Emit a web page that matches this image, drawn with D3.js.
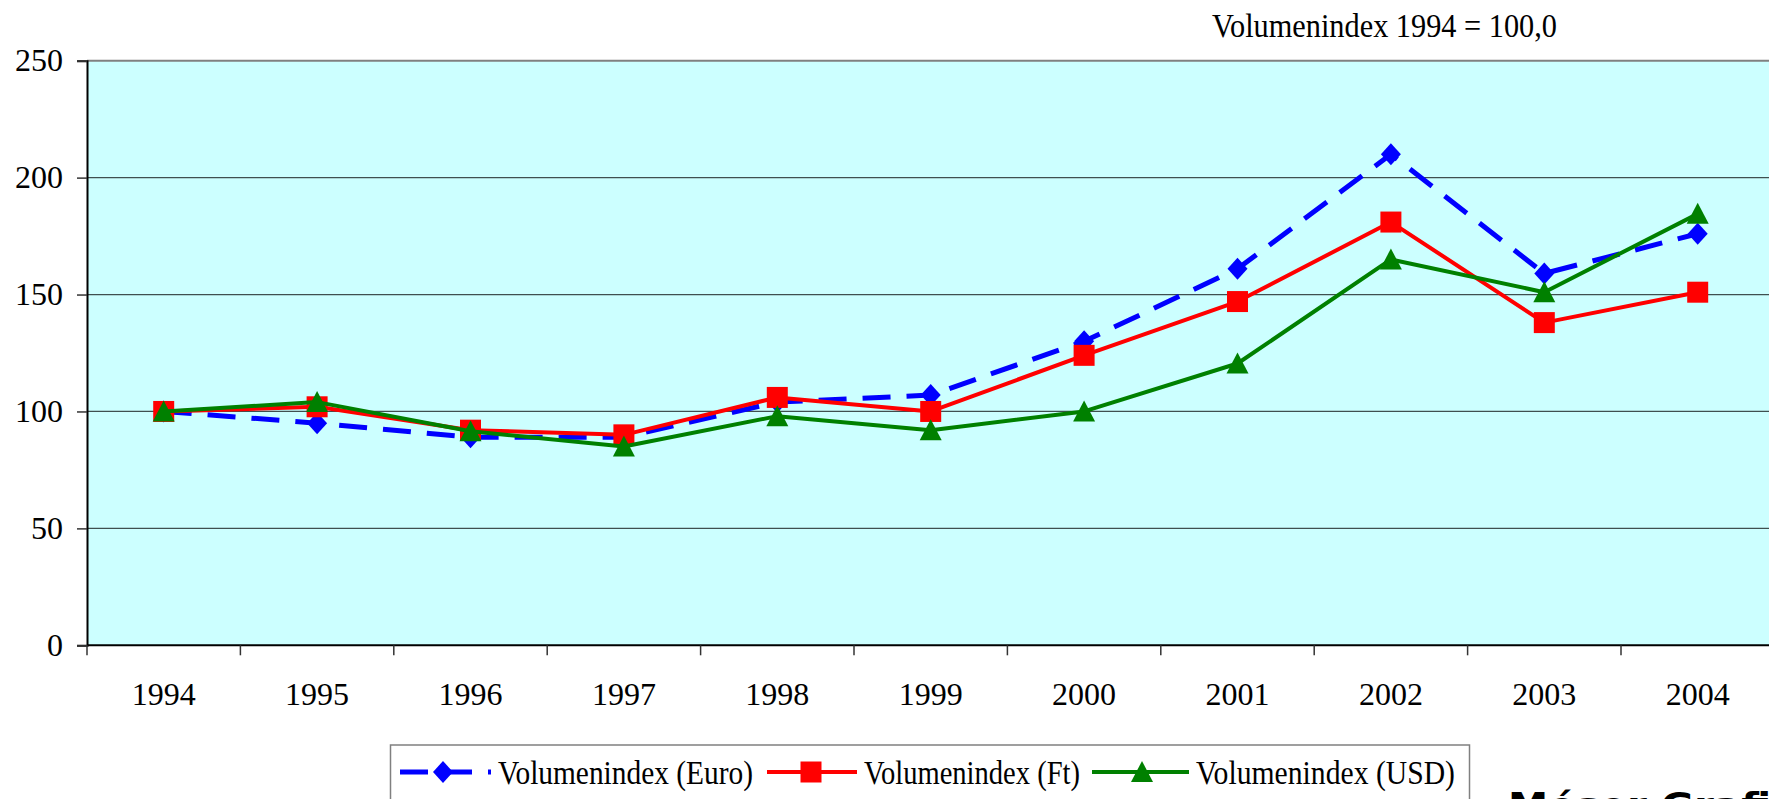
<!DOCTYPE html>
<html>
<head>
<meta charset="utf-8">
<script src="https://cdn.jsdelivr.net/npm/d3@7"></script>
<style>
  html, body { margin: 0; padding: 0; background: #fff; overflow: hidden; }
  svg { display: block; font-family: "Liberation Serif", "DejaVu Serif", serif; }
</style>
</head>
<body>
<div id="chart"></div>
<script>
// Volumenindex 1994 = 100,0

// data
const years = ['1994', '1995', '1996', '1997', '1998', '1999', '2000', '2001', '2002', '2003', '2004'];
const euroValues = [100, 95, 89, 89, 104, 107, 130, 161, 210, 159, 176];
const ftValues = [100, 102, 92, 90, 106, 100, 124, 147, 181, 138, 151];
const usdValues = [100, 104, 91.5, 85, 98, 92, 100, 120.5, 165, 151, 184.5];
const yTicks = [0, 50, 100, 150, 200, 250];

const series = [
    { name: 'Volumenindex (Euro)', values: euroValues, color: '#0000ff', dash: '28,16', width: 5, marker: 'diamond' },
    { name: 'Volumenindex (Ft)', values: ftValues, color: '#ff0000', dash: null, width: 4, marker: 'square' },
    { name: 'Volumenindex (USD)', values: usdValues, color: '#008000', dash: null, width: 4, marker: 'triangle' }
];

const width = 1769;
const height = 799;
const plot = { left: 87, top: 60.7, bottom: 645.3, band: 153.4 };

const svg = d3.select('#chart').append('svg')
    .attr('width', width)
    .attr('height', height);

// scales
const xScale = d3.scaleBand()
    .domain(years)
    .range([plot.left, plot.left + plot.band * years.length]);

const yScale = d3.scaleLinear()
    .domain([0, 250])
    .range([plot.bottom, plot.top]);

const cx = d => xScale(d) + xScale.bandwidth() / 2;

// marker paths
function markerPath(type, x, y) {
    if (type === 'diamond') {
        return `M${x},${y - 11}L${x + 10},${y}L${x},${y + 11}L${x - 10},${y}Z`;
    }
    if (type === 'square') {
        return `M${x - 10.5},${y - 10.5}h21v21h-21Z`;
    }
    return `M${x},${y - 11}L${x + 11},${y + 10}L${x - 11},${y + 10}Z`;
}

// plot background
svg.append('rect')
    .attr('x', plot.left)
    .attr('y', plot.top)
    .attr('width', width - plot.left + 10)
    .attr('height', plot.bottom - plot.top)
    .style('fill', '#ccffff');

// gridlines
svg.append('g')
    .selectAll('line')
    .data(yTicks.filter(t => t > 0 && t < 250))
    .enter().append('line')
    .attr('x1', plot.left)
    .attr('x2', width + 10)
    .attr('y1', d => yScale(d))
    .attr('y2', d => yScale(d))
    .style('stroke', '#3f4f4f')
    .style('stroke-width', 1.3);

// top border
svg.append('line')
    .attr('x1', plot.left)
    .attr('x2', width + 10)
    .attr('y1', plot.top)
    .attr('y2', plot.top)
    .style('stroke', '#808080')
    .style('stroke-width', 2);

// y axis
const yAxis = svg.append('g')
    .attr('transform', `translate(${plot.left},0)`)
    .call(d3.axisLeft(yScale).tickValues(yTicks).tickSize(10).tickPadding(14));
yAxis.select('.domain').style('stroke', '#000').style('stroke-width', 2);
yAxis.selectAll('.tick line').style('stroke', '#333').style('stroke-width', 1.5);
yAxis.selectAll('.tick text')
    .style('font-family', '"Liberation Serif", serif')
    .style('font-size', '32px')
    .style('fill', '#000');

// x axis (ticks at category boundaries)
const boundaries = d3.range(years.length + 1).map(i => plot.left + i * plot.band);
const xAxisG = svg.append('g');
xAxisG.append('line')
    .attr('x1', plot.left)
    .attr('x2', width + 10)
    .attr('y1', plot.bottom)
    .attr('y2', plot.bottom)
    .style('stroke', '#000')
    .style('stroke-width', 2);
xAxisG.selectAll('.xtick')
    .data(boundaries)
    .enter().append('line')
    .attr('class', 'xtick')
    .attr('x1', d => d)
    .attr('x2', d => d)
    .attr('y1', plot.bottom)
    .attr('y2', plot.bottom + 10)
    .style('stroke', '#333')
    .style('stroke-width', 1.5);
xAxisG.selectAll('.xlabel')
    .data(years)
    .enter().append('text')
    .attr('class', 'xlabel')
    .attr('x', d => cx(d))
    .attr('y', 704.5)
    .attr('text-anchor', 'middle')
    .style('font-size', '32px')
    .style('fill', '#000')
    .text(d => d);

// series
const line = d3.line()
    .x((d, i) => cx(years[i]))
    .y(d => yScale(d));

series.forEach(s => {
    svg.append('path')
        .datum(s.values)
        .attr('d', line)
        .style('fill', 'none')
        .style('stroke', s.color)
        .style('stroke-width', s.width)
        .style('stroke-dasharray', s.dash)
        .style('stroke-linejoin', 'round');

    svg.append('g')
        .selectAll('path')
        .data(s.values)
        .enter().append('path')
        .attr('d', (d, i) => markerPath(s.marker, cx(years[i]), yScale(d)))
        .style('fill', s.color);
});

// title
svg.append('text')
    .attr('x', 1212)
    .attr('y', 36.7)
    .attr('textLength', 345)
    .attr('lengthAdjust', 'spacingAndGlyphs')
    .style('font-size', '34px')
    .style('fill', '#000')
    .text('Volumenindex 1994 = 100,0');

// legend
svg.append('rect')
    .attr('x', 390.5)
    .attr('y', 745)
    .attr('width', 1079)
    .attr('height', 60)
    .style('fill', '#fff')
    .style('stroke', '#808080')
    .style('stroke-width', 1.5);

const legendItems = [
    { lineX: 400, lineW: 91, markX: 443, textX: 498, textW: 255 },
    { lineX: 767, lineW: 90, markX: 811, textX: 864, textW: 216 },
    { lineX: 1092, lineW: 97, markX: 1142, textX: 1196, textW: 259 }
];

series.forEach((s, i) => {
    const it = legendItems[i];
    const ly = 772;
    svg.append('line')
        .attr('x1', it.lineX)
        .attr('x2', it.lineX + it.lineW)
        .attr('y1', ly)
        .attr('y2', ly)
        .style('stroke', s.color)
        .style('stroke-width', s.width)
        .style('stroke-dasharray', s.dash ? '28,16' : null);
    svg.append('path')
        .attr('d', markerPath(s.marker, it.markX, ly))
        .style('fill', s.color);
    svg.append('text')
        .attr('x', it.textX)
        .attr('y', 784)
        .attr('textLength', it.textW)
        .attr('lengthAdjust', 'spacingAndGlyphs')
        .style('font-size', '34px')
        .style('fill', '#000')
        .text(s.name);
});

// logo at the bottom right, cut off by the edge as in the original
svg.append('text')
    .attr('x', 1508)
    .attr('y', 818)
    .attr('textLength', 290)
    .attr('lengthAdjust', 'spacingAndGlyphs')
    .style('font-family', '"DejaVu Sans", sans-serif')
    .style('font-weight', 'bold')
    .style('font-size', '36px')
    .style('fill', '#000')
    .text('Méser Grafik');
</script>
</body>
</html>
